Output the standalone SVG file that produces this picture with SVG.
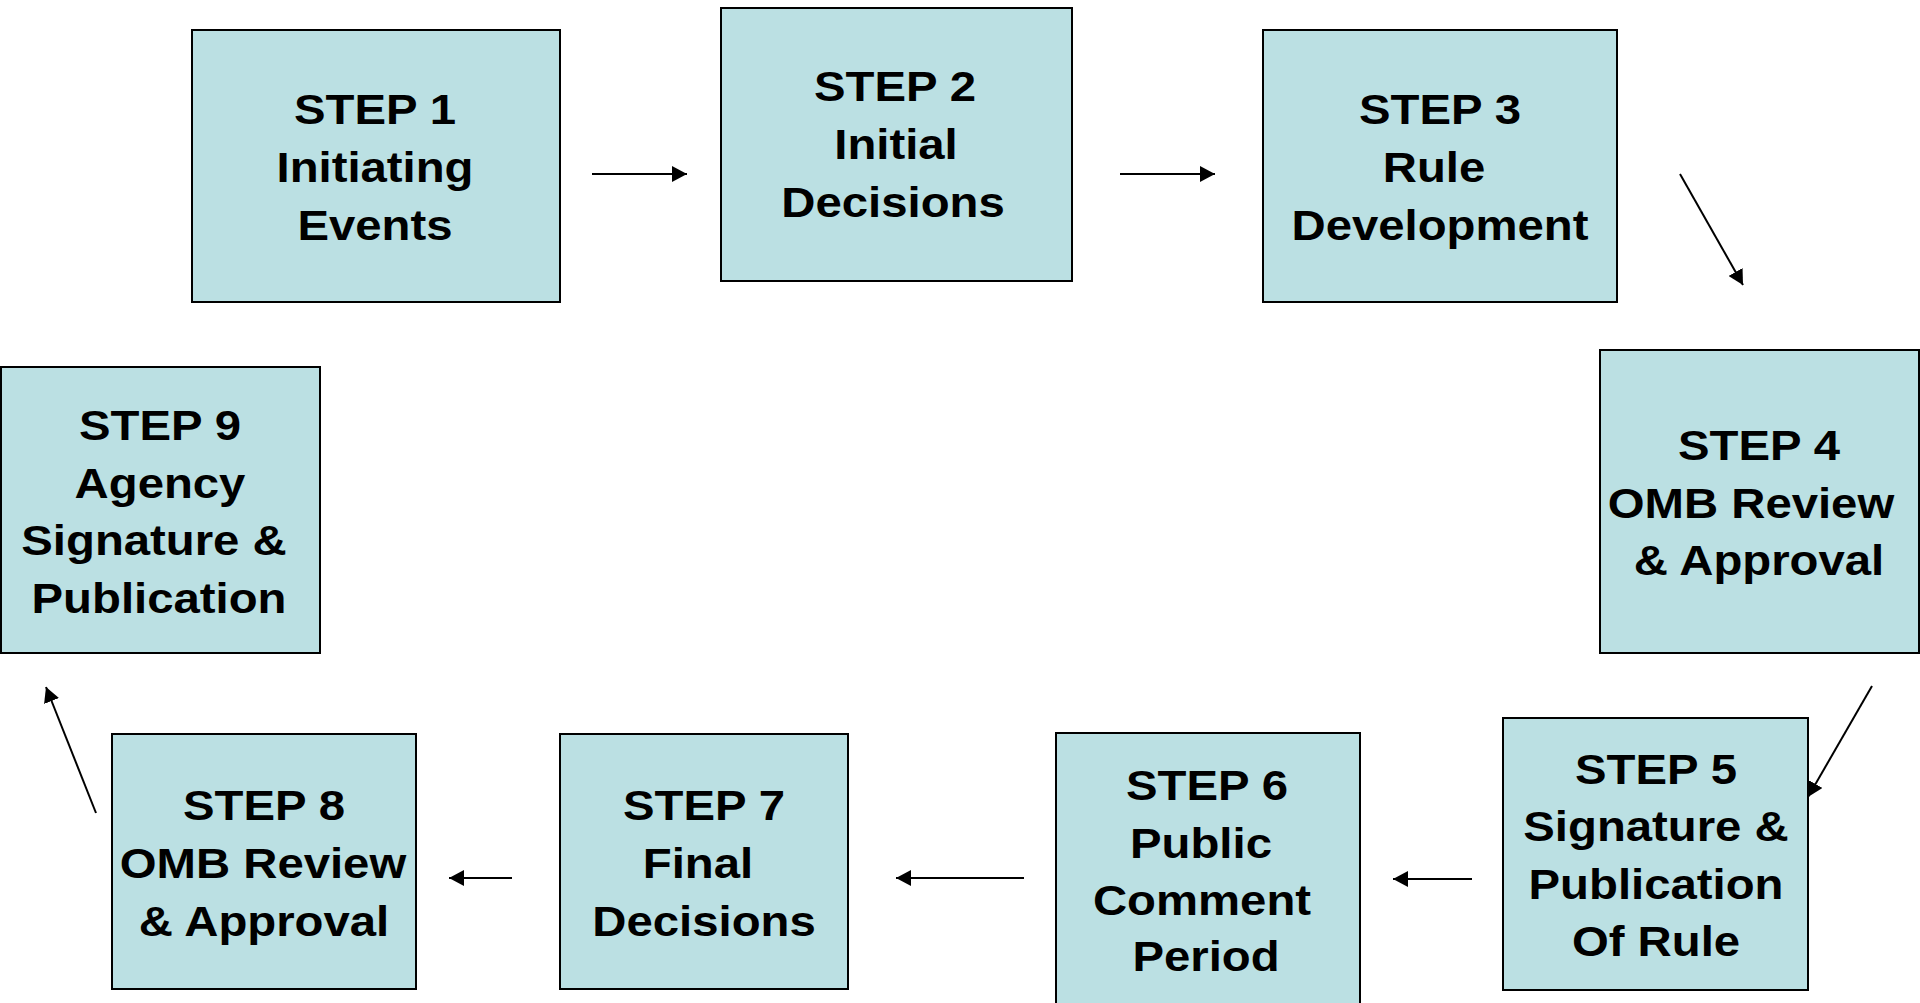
<svg xmlns="http://www.w3.org/2000/svg" width="1920" height="1003" viewBox="0 0 1920 1003">
  <style>
    .box { fill: #BBE0E3; stroke: #000000; stroke-width: 2; }
    .lbl { font-family: "Liberation Sans", Arial, sans-serif; font-weight: bold; font-size: 43px; fill: #000000; text-anchor: middle; }
    .conn { stroke: #000000; stroke-width: 2; fill: none; marker-end: url(#arrow); }
  </style>
  <defs>
    <marker id="arrow" markerUnits="userSpaceOnUse" markerWidth="16" markerHeight="16" refX="15" refY="8" orient="auto">
      <path d="M0,0 L15,8 L0,16 Z" fill="#000000"/>
    </marker>
  </defs>
  <rect x="0" y="0" width="1920" height="1003" fill="#FFFFFF"/>

  <g id="step1">
    <rect class="box" x="192" y="30" width="368" height="272"/>
    <text class="lbl" transform="matrix(1.1 0 0 1 375 0)" x="0" y="124">STEP 1</text>
    <text class="lbl" transform="matrix(1.1 0 0 1 375 0)" x="0" y="182">Initiating</text>
    <text class="lbl" transform="matrix(1.1 0 0 1 375 0)" x="0" y="240">Events</text>
  </g>

  <g id="step2">
    <rect class="box" x="721" y="8" width="351" height="273"/>
    <text class="lbl" transform="matrix(1.1 0 0 1 895 0)" x="0" y="101">STEP 2</text>
    <text class="lbl" transform="matrix(1.1 0 0 1 896 0)" x="0" y="159">Initial</text>
    <text class="lbl" transform="matrix(1.1 0 0 1 893 0)" x="0" y="217">Decisions</text>
  </g>

  <g id="step3">
    <rect class="box" x="1263" y="30" width="354" height="272"/>
    <text class="lbl" transform="matrix(1.1 0 0 1 1440 0)" x="0" y="124">STEP 3</text>
    <text class="lbl" transform="matrix(1.1 0 0 1 1434 0)" x="0" y="182">Rule</text>
    <text class="lbl" transform="matrix(1.1 0 0 1 1440 0)" x="0" y="240">Development</text>
  </g>

  <g id="step4">
    <rect class="box" x="1600" y="350" width="319" height="303"/>
    <text class="lbl" transform="matrix(1.1 0 0 1 1759 0)" x="0" y="460">STEP 4</text>
    <text class="lbl" transform="matrix(1.1 0 0 1 1751 0)" x="0" y="518">OMB Review</text>
    <text class="lbl" transform="matrix(1.1 0 0 1 1759 0)" x="0" y="575">&amp; Approval</text>
  </g>

  <g id="step5">
    <rect class="box" x="1503" y="718" width="305" height="272"/>
    <text class="lbl" transform="matrix(1.1 0 0 1 1656 0)" x="0" y="784">STEP 5</text>
    <text class="lbl" transform="matrix(1.1 0 0 1 1656 0)" x="0" y="841">Signature &amp;</text>
    <text class="lbl" transform="matrix(1.1 0 0 1 1656 0)" x="0" y="899">Publication</text>
    <text class="lbl" transform="matrix(1.1 0 0 1 1656 0)" x="0" y="956">Of Rule</text>
  </g>

  <g id="step6">
    <rect class="box" x="1056" y="733" width="304" height="290"/>
    <text class="lbl" transform="matrix(1.1 0 0 1 1207 0)" x="0" y="800">STEP 6</text>
    <text class="lbl" transform="matrix(1.1 0 0 1 1201 0)" x="0" y="858">Public</text>
    <text class="lbl" transform="matrix(1.1 0 0 1 1202 0)" x="0" y="915">Comment</text>
    <text class="lbl" transform="matrix(1.1 0 0 1 1206 0)" x="0" y="971">Period</text>
  </g>

  <g id="step7">
    <rect class="box" x="560" y="734" width="288" height="255"/>
    <text class="lbl" transform="matrix(1.1 0 0 1 704 0)" x="0" y="820">STEP 7</text>
    <text class="lbl" transform="matrix(1.1 0 0 1 698 0)" x="0" y="878">Final</text>
    <text class="lbl" transform="matrix(1.1 0 0 1 704 0)" x="0" y="936">Decisions</text>
  </g>

  <g id="step8">
    <rect class="box" x="112" y="734" width="304" height="255"/>
    <text class="lbl" transform="matrix(1.1 0 0 1 264 0)" x="0" y="820">STEP 8</text>
    <text class="lbl" transform="matrix(1.1 0 0 1 263 0)" x="0" y="878">OMB Review</text>
    <text class="lbl" transform="matrix(1.1 0 0 1 264 0)" x="0" y="936">&amp; Approval</text>
  </g>

  <g id="step9">
    <rect class="box" x="1" y="367" width="319" height="286"/>
    <text class="lbl" transform="matrix(1.1 0 0 1 160 0)" x="0" y="440">STEP 9</text>
    <text class="lbl" transform="matrix(1.1 0 0 1 160 0)" x="0" y="498">Agency</text>
    <text class="lbl" transform="matrix(1.1 0 0 1 154 0)" x="0" y="555">Signature &amp;</text>
    <text class="lbl" transform="matrix(1.1 0 0 1 159 0)" x="0" y="613">Publication</text>
  </g>

  <g id="connectors">
    <line class="conn" x1="592" y1="174" x2="687" y2="174"/>
    <line class="conn" x1="1120" y1="174" x2="1215" y2="174"/>
    <line class="conn" x1="1680" y1="174" x2="1743" y2="285"/>
    <line class="conn" x1="1872" y1="686" x2="1808" y2="797"/>
    <line class="conn" x1="1472" y1="879" x2="1393" y2="879"/>
    <line class="conn" x1="1024" y1="878" x2="896" y2="878"/>
    <line class="conn" x1="512" y1="878" x2="449" y2="878"/>
    <line class="conn" x1="96" y1="813" x2="46" y2="687"/>
  </g>
</svg>
